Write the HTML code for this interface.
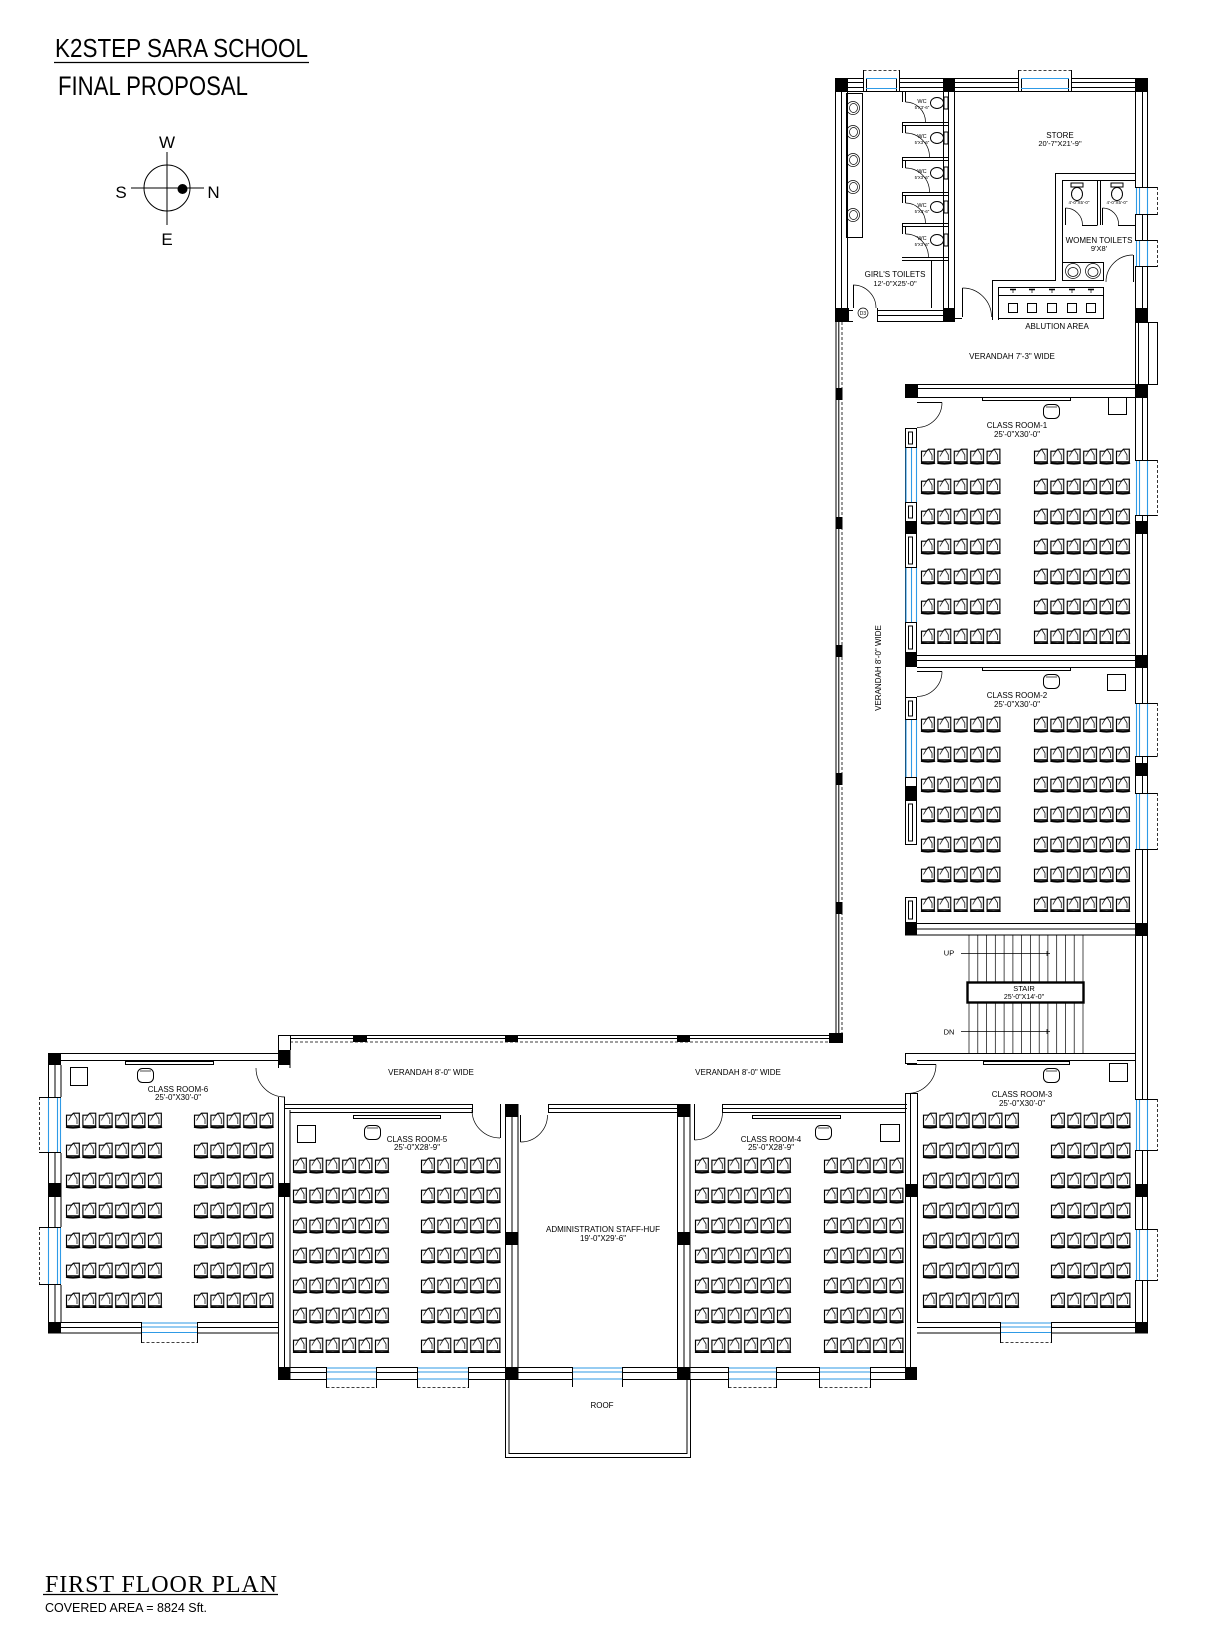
<!DOCTYPE html>
<html><head><meta charset="utf-8">
<style>
html,body{margin:0;padding:0;background:#fff}
svg{display:block}
text{font-family:"Liberation Sans",Arial,sans-serif;fill:#000}
.l{stroke:#000;stroke-width:1;fill:none}
.t{stroke:#000;stroke-width:.7;fill:none}
.h{stroke:#000;stroke-width:1.6;fill:none}
.b{stroke:#2e9ae6;stroke-width:1.1;fill:none}
.d{stroke:#000;stroke-width:.8;fill:none;stroke-dasharray:3 2}
.w{fill:#fff;stroke:none}
.k{fill:#000;stroke:none}
.s8{font-size:8px;text-anchor:middle}
.s7{font-size:7.5px;text-anchor:middle}
</style></head><body>
<svg width="1214" height="1632" viewBox="0 0 1214 1632" xmlns="http://www.w3.org/2000/svg">
<defs>
<g id="ch" fill="none" stroke="#000">
<path d="M1.5 3.2 H6.5 L8.5 1.2 H14.3 V13.8 H1.5 Z" stroke-width="1.15"/>
<path d="M6.5 3.2 L3.5 8.5 M8.5 1.2 L12 7 M12 7 V12" stroke-width=".75"/>
<path d="M1 14.9 Q8 16.3 15 14.9" stroke-width="2"/>
</g>
<pattern id="pr" x="0" y="0" width="16.4" height="30" patternUnits="userSpaceOnUse"><use href="#ch"/></pattern>
</defs>
<rect width="1214" height="1632" fill="#fff"/>

<!-- TITLE -->
<text x="55" y="57" font-size="26" textLength="253" lengthAdjust="spacingAndGlyphs">K2STEP SARA SCHOOL</text>
<line x1="54" y1="62.5" x2="309" y2="62.5" stroke="#000" stroke-width="1.3"/>
<text x="58" y="95" font-size="27" textLength="190" lengthAdjust="spacingAndGlyphs">FINAL PROPOSAL</text>

<!-- COMPASS -->
<circle cx="167" cy="188" r="23" class="l"/>
<path class="l" d="M167 152 V225 M131 188 H204"/>
<circle cx="182.5" cy="189" r="5" fill="#000"/>
<text x="167" y="148" font-size="17" text-anchor="middle">W</text>
<text x="121" y="198" font-size="17" text-anchor="middle">S</text>
<text x="213.5" y="198" font-size="17" text-anchor="middle">N</text>
<text x="167" y="245" font-size="17" text-anchor="middle">E</text>

<!-- BOTTOM TITLE -->
<text x="45" y="1592" font-size="24" style="font-family:'Liberation Serif',serif" textLength="232" lengthAdjust="spacing">FIRST FLOOR PLAN</text>
<line x1="43" y1="1594.5" x2="278" y2="1594.5" stroke="#000" stroke-width="1.2"/>
<text x="45" y="1612" font-size="12.5" textLength="162" lengthAdjust="spacingAndGlyphs">COVERED AREA = 8824 Sft.</text>

<!-- ================= TOP BLOCK ================= -->
<path class="l" d="M835 78.5 H1148 M848 82.5 H1135 M848 87.5 H1135 M848 91.5 H943 M955 91.5 H1135"/>
<rect class="w" x="863" y="77" width="37" height="14"/>
<path class="l" d="M863.5 70 V92 M899.5 70 V92 M866.5 78 V92 M896.5 78 V92"/>
<path class="d" d="M863.5 70.5 H899.5"/>
<path class="b" d="M866 78.5 H897 M866 88.5 H897"/>
<rect class="w" x="1018" y="77" width="54" height="14"/>
<path class="l" d="M1018.5 70 V92 M1071.5 70 V92 M1021.5 78 V92 M1068.5 78 V92"/>
<path class="d" d="M1018.5 70.5 H1071.5"/>
<path class="b" d="M1021 78.5 H1069 M1021 88.5 H1069"/>
<rect class="k" x="835" y="78" width="13" height="14"/>
<rect class="k" x="943" y="78" width="12" height="14"/>
<rect class="k" x="1135" y="78" width="13" height="14"/>

<path class="l" d="M835.5 92 V308 M841.5 92 V308 M847.5 92 V308 M943.5 92 V308 M948.5 92 V308 M954.5 92 V308"/>
<rect class="k" x="835" y="308" width="14" height="14"/>
<rect class="k" x="943" y="308" width="12" height="14"/>
<path class="l" d="M877 310.5 H943 M877 315.5 H943 M877 321.5 H943 M877.5 308 V322 M849 310.5 H853 M849 321.5 H853"/>
<path class="t" d="M853 285 A23 23 0 0 1 876 308"/>
<path class="l" d="M853.5 285 V308"/>
<circle cx="863" cy="313" r="5" class="t"/>
<text x="863" y="315" font-size="5" text-anchor="middle">D3</text>
<rect class="l" x="846.5" y="93.5" width="16" height="144"/>
<g class="t">
<circle cx="853" cy="108" r="6.5"/><ellipse cx="853.5" cy="108" rx="4" ry="4.5"/>
<circle cx="853" cy="132" r="6.5"/><ellipse cx="853.5" cy="132" rx="4" ry="4.5"/>
<circle cx="853" cy="160" r="6.5"/><ellipse cx="853.5" cy="160" rx="4" ry="4.5"/>
<circle cx="853" cy="187" r="6.5"/><ellipse cx="853.5" cy="187" rx="4" ry="4.5"/>
<circle cx="853" cy="215" r="6.5"/><ellipse cx="853.5" cy="215" rx="4" ry="4.5"/>
</g>
<path class="l" d="M902 122.5 H948 M902 125.5 H948 M902 157.5 H948 M902 160.5 H948 M902 192.5 H948 M902 195.5 H948 M902 223.5 H948 M902 226.5 H948 M902 257.5 H948 M902 260.5 H948"/>
<path class="l" d="M902.5 92 V102 M905.5 92 V102 M902.5 122 V133 M905.5 125 V133 M902.5 157 V168 M905.5 160 V168 M902.5 192 V203 M905.5 195 V203 M902.5 223 V234 M905.5 226 V234"/>
<path class="t" d="M905.5 102 A20 20 0 0 1 925.5 122 M905.5 133 A24 24 0 0 1 929.5 157 M905.5 168 A24 24 0 0 1 929.5 192 M905.5 203 A20 20 0 0 1 925.5 223 M905.5 234 A23 23 0 0 1 928.5 257"/>
<g class="l">
<ellipse cx="937" cy="103" rx="6.5" ry="5.5"/><rect x="944" y="97" width="4" height="12"/>
<ellipse cx="937" cy="138" rx="6.5" ry="5.5"/><rect x="944" y="132" width="4" height="12"/>
<ellipse cx="937" cy="173" rx="6.5" ry="5.5"/><rect x="944" y="167" width="4" height="12"/>
<ellipse cx="937" cy="207" rx="6.5" ry="5.5"/><rect x="944" y="201" width="4" height="12"/>
<ellipse cx="937" cy="240" rx="6.5" ry="5.5"/><rect x="944" y="234" width="4" height="12"/>
</g>
<g font-size="5.5" text-anchor="middle">
<text x="922" y="103">WC</text><text x="922" y="138">WC</text><text x="922" y="173">WC</text><text x="922" y="207">WC</text><text x="922" y="240">WC</text>
</g>
<g font-size="4.3" text-anchor="middle">
<text x="922" y="109">5'X3'-6"</text><text x="922" y="144">5'X3'-6"</text><text x="922" y="179">5'X3'-6"</text><text x="922" y="213">5'X3'-6"</text><text x="922" y="246">5'X3'-6"</text>
</g>
<path class="l" d="M931.5 260 V308"/>
<text x="895" y="277" class="s8">GIRL'S TOILETS</text>
<text x="895" y="286" class="s7">12'-0"X25'-0"</text>

<text x="1060" y="138" class="s8">STORE</text>
<text x="1060" y="146" class="s7">20'-7"X21'-9"</text>
<path class="l" d="M1135 173.5 H1055.5 V280.5 H992.5 V320 M1135 180.5 H1062.5 V262 M998.5 287 V320"/>
<path class="l" d="M1097.5 180 V225 M1100.5 180 V225 M1082 225.5 H1097.5 M1118 225.5 H1135 M1065.5 208 V225 M1102.5 208 V225"/>
<path class="t" d="M1065.5 208 A17 17 0 0 1 1082.5 225 M1102.5 208 A16 16 0 0 1 1118.5 225"/>
<g class="l">
<ellipse cx="1077" cy="194" rx="5.5" ry="6.5"/><rect x="1071" y="183" width="12" height="4"/>
<ellipse cx="1117" cy="194" rx="5.5" ry="6.5"/><rect x="1111" y="183" width="12" height="4"/>
</g>
<text x="1079" y="204" font-size="4.5" text-anchor="middle">4'-0"X5'-0"</text>
<text x="1117" y="204" font-size="4.5" text-anchor="middle">4'-0"X5'-0"</text>
<text x="1099" y="243" class="s8">WOMEN TOILETS</text>
<text x="1099" y="251" class="s7">9'X8'</text>
<rect class="l" x="1062.5" y="262.5" width="41" height="18"/>
<g class="t"><circle cx="1073" cy="271" r="7.5"/><ellipse cx="1073" cy="272" rx="5" ry="4.5"/><circle cx="1093" cy="271" r="7.5"/><ellipse cx="1093" cy="272" rx="5" ry="4.5"/></g>
<path class="t" d="M1106 282 A27 27 0 0 1 1133 255"/>
<path class="l" d="M1133.5 255 V282"/>
<rect class="l" x="998.5" y="287.5" width="105" height="31"/>
<path class="l" d="M998.5 295.5 H1103.5"/>
<g class="l"><rect x="1008.5" y="303.5" width="9" height="9"/><rect x="1027.5" y="303.5" width="9" height="9"/><rect x="1047.5" y="303.5" width="9" height="9"/><rect x="1067.5" y="303.5" width="9" height="9"/><rect x="1086.5" y="303.5" width="9" height="9"/></g>
<path class="h" d="M1010 289.5 H1016 M1029 289.5 H1035 M1049 289.5 H1055 M1069 289.5 H1075 M1088 289.5 H1094"/>
<path class="t" d="M1013 290 V293 M1032 290 V293 M1052 290 V293 M1072 290 V293 M1091 290 V293"/>
<text x="1057" y="329" class="s8">ABLUTION AREA</text>
<path class="l" d="M962.5 288 V317"/>
<path class="t" d="M962.5 288 A29 29 0 0 1 991.5 317"/>
<path class="l" d="M955 318.5 H962"/>
<text x="1012" y="359" class="s8">VERANDAH 7'-3" WIDE</text>

<!-- ================= RIGHT WALL ================= -->
<path class="l" d="M1135.5 92 V322 M1135.5 385 V1333 M1142.5 92 V322 M1142.5 385 V1333 M1147.5 92 V1333"/>
<rect class="w" x="1134" y="322" width="15" height="63"/>
<path class="l" d="M1135.5 322 V385 M1138.5 322 V385 M1148.5 322 V385 M1157.5 322 V385 M1135 322.5 H1157.5 M1135 384.5 H1157.5"/>
<g>
<rect class="w" x="1134" y="187" width="15" height="28"/><path class="l" d="M1135 187.5 H1157.5 M1135 214.5 H1157.5"/><path class="d" d="M1157.5 187 V215"/><path class="b" d="M1136.5 188 V214 M1139.5 188 V214 M1147.5 188 V214"/>
<rect class="w" x="1134" y="240" width="15" height="27"/><path class="l" d="M1135 240.5 H1157.5 M1135 266.5 H1157.5"/><path class="d" d="M1157.5 240 V267"/><path class="b" d="M1136.5 241 V266 M1139.5 241 V266 M1147.5 241 V266"/>
<rect class="w" x="1134" y="460" width="15" height="56"/><path class="l" d="M1135 460.5 H1157.5 M1135 515.5 H1157.5"/><path class="d" d="M1157.5 460 V516"/><path class="b" d="M1136.5 461 V515 M1139.5 461 V515 M1147.5 461 V515"/>
<rect class="w" x="1134" y="703" width="15" height="54"/><path class="l" d="M1135 703.5 H1157.5 M1135 756.5 H1157.5"/><path class="d" d="M1157.5 703 V757"/><path class="b" d="M1136.5 704 V756 M1139.5 704 V756 M1147.5 704 V756"/>
<rect class="w" x="1134" y="793" width="15" height="57"/><path class="l" d="M1135 793.5 H1157.5 M1135 849.5 H1157.5"/><path class="d" d="M1157.5 793 V850"/><path class="b" d="M1136.5 794 V849 M1139.5 794 V849 M1147.5 794 V849"/>
<rect class="w" x="1134" y="1099" width="15" height="52"/><path class="l" d="M1135 1099.5 H1157.5 M1135 1150.5 H1157.5"/><path class="d" d="M1157.5 1099 V1151"/><path class="b" d="M1136.5 1100 V1150 M1139.5 1100 V1150 M1147.5 1100 V1150"/>
<rect class="w" x="1134" y="1229" width="15" height="52"/><path class="l" d="M1135 1229.5 H1157.5 M1135 1280.5 H1157.5"/><path class="d" d="M1157.5 1229 V1281"/><path class="b" d="M1136.5 1230 V1280 M1139.5 1230 V1280 M1147.5 1230 V1280"/>
</g>
<g class="k">
<rect x="1135" y="308" width="13" height="14"/>
<rect x="1135" y="384" width="13" height="14"/>
<rect x="1135" y="521" width="13" height="13"/>
<rect x="1135" y="655" width="13" height="13"/>
<rect x="1135" y="763" width="13" height="13"/>
<rect x="1135" y="923" width="13" height="13"/>
<rect x="1135" y="1184" width="13" height="13"/>
<rect x="1135" y="1322" width="13" height="11"/>
</g>

<!-- ================= VERTICAL VERANDAH LEFT WALL ================= -->
<path class="l" d="M836 322 V1042 M838.8 322 V1036"/>
<path class="d" d="M842 322 V1036"/>
<g class="k">
<rect x="835.5" y="388" width="7" height="12"/>
<rect x="835.5" y="517" width="7" height="12"/>
<rect x="835.5" y="645" width="7" height="12"/>
<rect x="835.5" y="773" width="7" height="12"/>
<rect x="835.5" y="902" width="7" height="12"/>
<rect x="829" y="1033" width="14" height="10"/>
</g>
<text transform="translate(881 668) rotate(-90)" class="s8">VERANDAH 8'-0" WIDE</text>

<!-- ================= ROOM 1 & 2 ================= -->
<path class="l" d="M905 384.5 H1135 M917 388.5 H1135 M917 397.5 H1135"/>
<path class="l" d="M905 655.5 H1135 M917 660.5 H1135 M917 667.5 H1135"/>
<path class="l" d="M905 923.5 H1135 M917 929 H1135 M905 935 H1135"/>
<path class="l" d="M905.5 428 V845 M916.5 428 V653 M916.5 697 V845 M905.5 897 V923 M916.5 897 V923"/>
<path class="l" d="M917 402.5 H942 M917 671.5 H942"/>
<path class="t" d="M942 402.5 A25 25 0 0 1 917 427.5 M942 671.5 A25 25 0 0 1 917 696.5"/>
<g class="l">
<rect x="905.5" y="428.5" width="11" height="19"/><rect x="908.5" y="432" width="4" height="12"/>
<rect x="905.5" y="502.5" width="11" height="19"/><rect x="908.5" y="506" width="4" height="12"/>
<rect x="905.5" y="533.5" width="11" height="34"/><rect x="908.5" y="537" width="4" height="27"/>
<rect x="905.5" y="622.5" width="11" height="30"/><rect x="908.5" y="626" width="4" height="23"/>
<rect x="905.5" y="697.5" width="11" height="22"/><rect x="908.5" y="701" width="4" height="15"/>
<rect x="905.5" y="777.5" width="11" height="9"/>
<rect x="905.5" y="800.5" width="11" height="44"/><rect x="908.5" y="804" width="4" height="37"/>
<rect x="905.5" y="897.5" width="11" height="25"/><rect x="908.5" y="901" width="4" height="18"/>
</g>
<rect class="w" x="906" y="448" width="10" height="54"/>
<rect class="w" x="906" y="568" width="10" height="54"/>
<rect class="w" x="906" y="720" width="10" height="57"/>
<path class="b" d="M906 448 V502 M911.5 448 V502 M916.5 448 V502 M906 568 V622 M911.5 568 V622 M916.5 568 V622 M906 720 V777 M911.5 720 V777 M916.5 720 V777"/>
<g class="k">
<rect x="905" y="384" width="13" height="14"/>
<rect x="905" y="522" width="12" height="11"/>
<rect x="905" y="653" width="12" height="14"/>
<rect x="905" y="787" width="12" height="13"/>
<rect x="905" y="923" width="12" height="12"/>
</g>
<rect class="l" x="982.5" y="397.5" width="88" height="3"/>
<rect class="l" x="1043.5" y="404.5" width="16" height="14" rx="5"/>
<path class="t" d="M1046 407 H1057"/>
<rect class="l" x="1108.5" y="397.5" width="18" height="17"/>
<text x="1017" y="428" class="s8">CLASS ROOM-1</text>
<text x="1017" y="437" class="s8">25'-0"X30'-0"</text>
<rect class="l" x="982.5" y="667.5" width="88" height="3"/>
<rect class="l" x="1043.5" y="674.5" width="16" height="14" rx="5"/>
<path class="t" d="M1046 677 H1057"/>
<rect class="l" x="1107.5" y="674.5" width="18" height="16"/>
<text x="1017" y="698" class="s8">CLASS ROOM-2</text>
<text x="1017" y="707" class="s8">25'-0"X30'-0"</text>
<g transform="translate(920 448)"><rect width="82" height="196" fill="url(#pr)"/></g>
<g transform="translate(1033 448)"><rect width="98.4" height="196" fill="url(#pr)"/></g>
<g transform="translate(920 716)"><rect width="82" height="196" fill="url(#pr)"/></g>
<g transform="translate(1033 716)"><rect width="98.4" height="196" fill="url(#pr)"/></g>

<!-- ================= STAIR ================= -->
<path class="t" d="M969 935 V1053 M977.8 935 V1053 M986.5 935 V1053 M995.3 935 V1053 M1004.1 935 V1053 M1012.9 935 V1053 M1021.6 935 V1053 M1030.4 935 V1053 M1039.2 935 V1053 M1047.9 935 V1053 M1056.7 935 V1053 M1065.5 935 V1053 M1074.2 935 V1053 M1083 935 V1053"/>
<rect x="967.5" y="982.5" width="116" height="20" fill="#fff" stroke="#000" stroke-width="2.4"/>
<text x="1024" y="991" font-size="7.5" text-anchor="middle">STAIR</text>
<text x="1024" y="999" font-size="7" text-anchor="middle">25'-0"X14'-0"</text>
<path class="t" d="M961 953.5 H1050 M961 1031.5 H1050 M1047 951 V956 M1047 1029 V1034"/>
<text x="949" y="955.5" font-size="7.5" text-anchor="middle">UP</text>
<text x="949" y="1034.5" font-size="7.5" text-anchor="middle">DN</text>

<!-- ================= ROOM 3 ================= -->
<path class="l" d="M905 1053.5 H1135 M917 1060.5 H1135 M905.5 1053 V1064 M905 1063.5 H917"/>
<path class="l" d="M907 1064.5 H936"/>
<path class="t" d="M936 1064.5 A29 29 0 0 1 907 1093.5"/>
<path class="l" d="M905.5 1093 V1380 M910.5 1093 V1380 M917.5 1093 V1322 M905 1093.5 H917"/>
<path class="l" d="M917 1322.5 H1135 M917 1327.5 H1135 M917 1333 H1148"/>
<rect class="w" x="1000" y="1321" width="52" height="13"/>
<path class="l" d="M1000.5 1322 V1343 M1051.5 1322 V1343"/>
<path class="d" d="M1000.5 1342.5 H1051.5"/>
<path class="b" d="M1001 1323 H1051 M1001 1327 H1051 M1001 1332.5 H1051"/>
<rect class="l" x="983.5" y="1061.5" width="86" height="3"/>
<rect class="l" x="1043.5" y="1068.5" width="16" height="14" rx="5"/>
<path class="t" d="M1046 1071 H1057"/>
<rect class="l" x="1109.5" y="1063.5" width="18" height="18"/>
<text x="1022" y="1097" class="s8">CLASS ROOM-3</text>
<text x="1022" y="1106" class="s8">25'-0"X30'-0"</text>
<g transform="translate(922 1112)"><rect width="98.4" height="196" fill="url(#pr)"/></g>
<g transform="translate(1050 1112)"><rect width="82" height="196" fill="url(#pr)"/></g>
<g class="k">
<rect x="905" y="1184" width="12" height="13"/>
<rect x="905" y="1367" width="12" height="13"/>
</g>

<!-- ================= HORIZONTAL VERANDAH ================= -->
<path class="l" d="M278 1035.5 H842 M290 1038.5 H836 M278.5 1035 V1053 M290.5 1035 V1050"/>
<path class="d" d="M290 1042 H836"/>
<g class="k">
<rect x="353" y="1035" width="14" height="7"/>
<rect x="505" y="1035" width="13" height="7"/>
<rect x="677" y="1035" width="13" height="7"/>
</g>
<text x="431" y="1075" class="s8">VERANDAH 8'-0" WIDE</text>
<text x="738" y="1075" class="s8">VERANDAH 8'-0" WIDE</text>

<!-- ================= ROOM 6 ================= -->
<path class="l" d="M48 1053.5 H290 M61 1060.5 H278 M48.5 1053 V1333 M55 1065 V1333 M61 1065 V1322"/>
<path class="l" d="M278.5 1097 V1380 M284.5 1097 V1380 M290 1110 V1380 M278.5 1050 V1068 M290 1050 V1068"/>
<path class="t" d="M256 1068 A29 29 0 0 0 285 1097"/>
<path class="l" d="M48 1322.5 H278 M55 1327.5 H278 M48 1333 H278"/>
<rect class="w" x="47" y="1097" width="15" height="56"/><path class="l" d="M39 1097.5 H61 M39 1152.5 H61"/><path class="d" d="M39.5 1097 V1153"/><path class="b" d="M48.5 1098 V1152 M57.5 1098 V1152 M60.5 1098 V1152"/>
<rect class="w" x="47" y="1227" width="15" height="58"/><path class="l" d="M39 1227.5 H61 M39 1284.5 H61"/><path class="d" d="M39.5 1227 V1285"/><path class="b" d="M48.5 1228 V1284 M57.5 1228 V1284 M60.5 1228 V1284"/>
<rect class="w" x="141" y="1321" width="57" height="13"/>
<path class="l" d="M141.5 1322 V1343 M197.5 1322 V1343"/>
<path class="d" d="M141.5 1342.5 H197.5"/>
<path class="b" d="M142 1323 H197 M142 1327 H197 M142 1332.5 H197"/>
<g class="k">
<rect x="48" y="1053" width="13" height="12"/>
<rect x="278" y="1050" width="12" height="15"/>
<rect x="48" y="1183" width="13" height="14"/>
<rect x="278" y="1183" width="12" height="14"/>
<rect x="48" y="1322" width="13" height="11"/>
<rect x="278" y="1367" width="12" height="13"/>
</g>
<rect class="l" x="125.5" y="1061.5" width="88" height="3"/>
<rect class="l" x="70.5" y="1067.5" width="17" height="18"/>
<rect class="l" x="137.5" y="1068.5" width="16" height="14" rx="5"/>
<path class="t" d="M140 1071 H151"/>
<text x="178" y="1092" class="s8">CLASS ROOM-6</text>
<text x="178" y="1100" class="s8">25'-0"X30'-0"</text>
<g transform="translate(65 1112)"><rect width="98.4" height="196" fill="url(#pr)"/></g>
<g transform="translate(193 1112)"><rect width="82" height="196" fill="url(#pr)"/></g>

<!-- ================= ROOM 5 ================= -->
<path class="l" d="M285 1104.5 H472 M285 1108.5 H472 M290 1112.5 H472 M472.5 1104 V1113 M500.5 1104 V1112"/>
<path class="t" d="M472 1110 A28 28 0 0 0 500 1138"/>
<path class="l" d="M500.5 1110 V1138"/>
<rect class="l" x="353.5" y="1115.5" width="87" height="3"/>
<rect class="l" x="297.5" y="1125.5" width="18" height="17"/>
<rect class="l" x="364.5" y="1125.5" width="16" height="14" rx="5"/>
<path class="t" d="M367 1128 H378"/>
<text x="417" y="1142" class="s8">CLASS ROOM-5</text>
<text x="417" y="1150" class="s8">25'-0"X28'-9"</text>
<g transform="translate(292 1157)"><rect width="98.4" height="196" fill="url(#pr)"/></g>
<g transform="translate(420 1157)"><rect width="82" height="196" fill="url(#pr)"/></g>

<!-- ================= ADMIN ================= -->
<path class="l" d="M505.5 1104 V1380 M512 1117 V1367 M518 1104 V1380 M677.5 1104 V1380 M684 1117 V1367 M690 1104 V1380"/>
<path class="l" d="M548 1104.5 H677 M548 1108.5 H677 M548 1112.5 H677 M548.5 1104 V1113"/>
<path class="l" d="M520.5 1115 V1142"/>
<path class="t" d="M520.5 1142 A27 27 0 0 0 547.5 1115"/>
<text x="603" y="1232" class="s8">ADMINISTRATION STAFF-HUF</text>
<text x="603" y="1241" class="s8">19'-0"X29'-6"</text>
<g class="k">
<rect x="505" y="1104" width="13" height="13"/>
<rect x="505" y="1232" width="13" height="13"/>
<rect x="505" y="1367" width="13" height="13"/>
<rect x="677" y="1104" width="13" height="13"/>
<rect x="677" y="1232" width="13" height="13"/>
<rect x="677" y="1367" width="13" height="13"/>
</g>
<path class="l" d="M505.5 1380 V1457.5 H690.5 V1380 M509 1380 V1453.5 H687 V1380"/>
<text x="602" y="1408" class="s8">ROOF</text>

<!-- ================= ROOM 4 ================= -->
<path class="l" d="M723 1104.5 H907 M723 1108.5 H907 M723 1112.5 H905 M722.5 1104 V1113 M694.5 1104 V1112"/>
<path class="l" d="M694.5 1112 V1140"/>
<path class="t" d="M694.5 1140 A28 28 0 0 0 722.5 1112"/>
<rect class="l" x="752.5" y="1115.5" width="88" height="3"/>
<rect class="l" x="815.5" y="1125.5" width="16" height="14" rx="5"/>
<path class="t" d="M818 1128 H829"/>
<rect class="l" x="880.5" y="1124.5" width="19" height="17"/>
<text x="771" y="1142" class="s8">CLASS ROOM-4</text>
<text x="771" y="1150" class="s8">25'-0"X28'-9"</text>
<g transform="translate(694 1157)"><rect width="98.4" height="196" fill="url(#pr)"/></g>
<g transform="translate(823 1157)"><rect width="82" height="196" fill="url(#pr)"/></g>

<!-- ================= BOTTOM WALL 1367-1380 ================= -->
<path class="l" d="M290 1367.5 H917 M290 1372.5 H917 M290 1379.5 H917"/>
<g>
<rect class="w" x="326" y="1366" width="51" height="14"/><path class="l" d="M326.5 1367 V1388 M376.5 1367 V1388"/><path class="d" d="M326.5 1387.5 H376.5"/><path class="b" d="M327 1368 H376 M327 1372 H376 M327 1379 H376"/>
<rect class="w" x="417" y="1366" width="52" height="14"/><path class="l" d="M417.5 1367 V1388 M468.5 1367 V1388"/><path class="d" d="M417.5 1387.5 H468.5"/><path class="b" d="M418 1368 H468 M418 1372 H468 M418 1379 H468"/>
<rect class="w" x="572" y="1366" width="51" height="14"/><path class="l" d="M572.5 1367 V1387 M622.5 1367 V1387"/><path class="b" d="M573 1368 H622 M573 1372 H622 M573 1379 H622"/>
<rect class="w" x="728" y="1366" width="49" height="14"/><path class="l" d="M728.5 1367 V1388 M776.5 1367 V1388"/><path class="d" d="M728.5 1387.5 H776.5"/><path class="b" d="M729 1368 H776 M729 1372 H776 M729 1379 H776"/>
<rect class="w" x="819" y="1366" width="52" height="14"/><path class="l" d="M819.5 1367 V1388 M870.5 1367 V1388"/><path class="d" d="M819.5 1387.5 H870.5"/><path class="b" d="M820 1368 H870 M820 1372 H870 M820 1379 H870"/>
</g>
<g class="k">
<rect x="505" y="1367" width="13" height="13"/>
<rect x="677" y="1367" width="13" height="13"/>
<rect x="278" y="1367" width="12" height="13"/>
<rect x="905" y="1367" width="12" height="13"/>
</g>
</svg>
</body></html>
